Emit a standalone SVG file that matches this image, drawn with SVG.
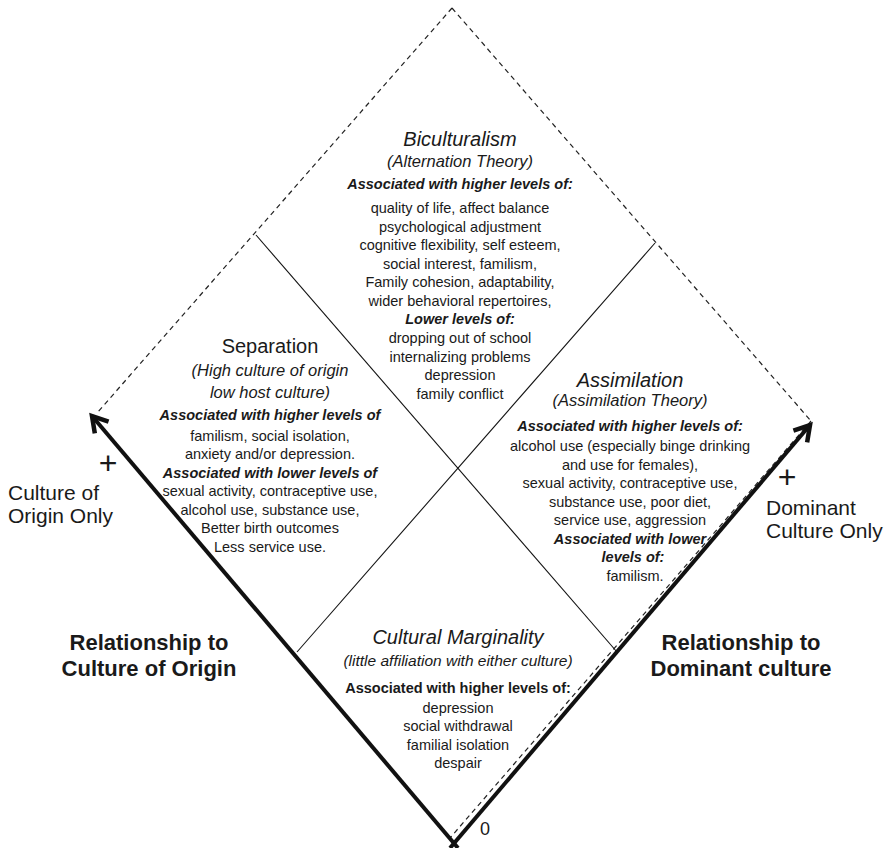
<svg xmlns="http://www.w3.org/2000/svg" width="892" height="848" viewBox="0 0 892 848">
<style>
  text { font-family: "Liberation Sans", Arial, sans-serif; fill: #1a1a1a; text-anchor: middle; }
  .title { font-size: 20px; font-style: italic; }
  .sub { font-size: 16.5px; font-style: italic; }
  .assoc { font-size: 14.5px; font-style: italic; font-weight: bold; }
  .assocb { font-size: 14.5px; font-weight: bold; }
  .body { font-size: 14.5px; }
  .axis { font-size: 22px; font-weight: bold; }
  .end { font-size: 21px; text-anchor: start; }
  .plus { font-size: 32px; }
  .dash { stroke: #222; stroke-width: 1.2; stroke-dasharray: 5 4; fill: none; }
  .thin { stroke: #111; stroke-width: 1.1; fill: none; }
  .thick { stroke: #111; stroke-width: 4; fill: none; }
</style>
<defs>
  <marker id="arr" markerUnits="userSpaceOnUse" markerWidth="24" markerHeight="24" viewBox="0 0 24 24" refX="18" refY="12" orient="auto" overflow="visible">
    <path d="M3,3 L18,12 L3,21" fill="none" stroke="#111" stroke-width="4.5" stroke-linejoin="miter"/>
  </marker>
</defs>
<rect width="892" height="848" fill="#fff"/>

<g id="connectors">
  <line class="dash" x1="452" y1="8" x2="97" y2="413"/>
  <line class="dash" x1="452" y1="8" x2="811" y2="421"/>
  <line class="dash" x1="811" y1="421" x2="450" y2="838"/>
  <line class="thin" x1="256" y1="235" x2="617" y2="652"/>
  <line class="thin" x1="655" y1="243" x2="297" y2="652"/>
  <line class="thick" x1="458" y1="848" x2="92" y2="416" marker-end="url(#arr)"/>
  <line class="thick" x1="450" y1="848" x2="810" y2="425" marker-end="url(#arr)"/>
</g>

<g id="biculturalism">
  <text class="title" x="460" y="146">Biculturalism</text>
  <text class="sub" x="460" y="167">(Alternation Theory)</text>
  <text class="assoc" x="460" y="189">Associated with higher levels of:</text>
  <text class="body" x="460" y="213">quality of life, affect balance</text>
  <text class="body" x="460" y="232">psychological adjustment</text>
  <text class="body" x="460" y="250">cognitive flexibility, self esteem,</text>
  <text class="body" x="460" y="269">social interest, familism,</text>
  <text class="body" x="460" y="287">Family cohesion, adaptability,</text>
  <text class="body" x="460" y="306">wider behavioral repertoires,</text>
  <text class="assoc" x="460" y="324">Lower levels of:</text>
  <text class="body" x="460" y="343">dropping out of school</text>
  <text class="body" x="460" y="362">internalizing problems</text>
  <text class="body" x="460" y="380">depression</text>
  <text class="body" x="460" y="399">family conflict</text>
</g>

<g id="separation">
  <text x="270" y="353" style="font-size:20px">Separation</text>
  <text class="sub" x="270" y="376">(High culture of origin</text>
  <text class="sub" x="270" y="398">low host culture)</text>
  <text class="assoc" x="270" y="420">Associated with higher levels of</text>
  <text class="body" x="270" y="441">familism, social isolation,</text>
  <text class="body" x="270" y="459">anxiety and/or depression.</text>
  <text class="assoc" x="270" y="478">Associated with lower levels of</text>
  <text class="body" x="270" y="496">sexual activity, contraceptive use,</text>
  <text class="body" x="270" y="515">alcohol use, substance use,</text>
  <text class="body" x="270" y="533">Better birth outcomes</text>
  <text class="body" x="270" y="552">Less service use.</text>
</g>

<g id="assimilation">
  <text class="title" x="630" y="387">Assimilation</text>
  <text class="sub" x="630" y="406">(Assimilation Theory)</text>
  <text class="assoc" x="630" y="431">Associated with higher levels of:</text>
  <text class="body" x="630" y="451">alcohol use (especially binge drinking</text>
  <text class="body" x="630" y="470">and use for females),</text>
  <text class="body" x="630" y="488">sexual activity, contraceptive use,</text>
  <text class="body" x="630" y="507">substance use, poor diet,</text>
  <text class="body" x="630" y="525">service use, aggression</text>
  <text class="assoc" x="630" y="544">Associated with lower</text>
  <text class="assoc" x="633" y="562">levels of:</text>
  <text class="body" x="635" y="581">familism.</text>
</g>

<g id="marginality">
  <text class="title" x="458" y="644">Cultural Marginality</text>
  <text class="sub" x="458" y="666" style="font-size:15.5px">(little affiliation with either culture)</text>
  <text class="assocb" x="458" y="693">Associated with higher levels of:</text>
  <text class="body" x="458" y="713">depression</text>
  <text class="body" x="458" y="731">social withdrawal</text>
  <text class="body" x="458" y="750">familial isolation</text>
  <text class="body" x="458" y="768">despair</text>
</g>

<g id="origin-axis">
  <text class="plus" x="108" y="474">+</text>
  <text class="end" x="8" y="500">Culture of</text>
  <text class="end" x="8" y="523">Origin Only</text>
  <text class="axis" x="149" y="650">Relationship to</text>
  <text class="axis" x="149" y="676">Culture of Origin</text>
</g>

<g id="dominant-axis">
  <text class="plus" x="787" y="488">+</text>
  <text class="end" x="766" y="515">Dominant</text>
  <text class="end" x="766" y="538">Culture Only</text>
  <text class="axis" x="741" y="650">Relationship to</text>
  <text class="axis" x="741" y="676">Dominant culture</text>
</g>

<g id="origin-zero">
  <text x="485" y="835" style="font-size:18px">0</text>
</g>
</svg>
